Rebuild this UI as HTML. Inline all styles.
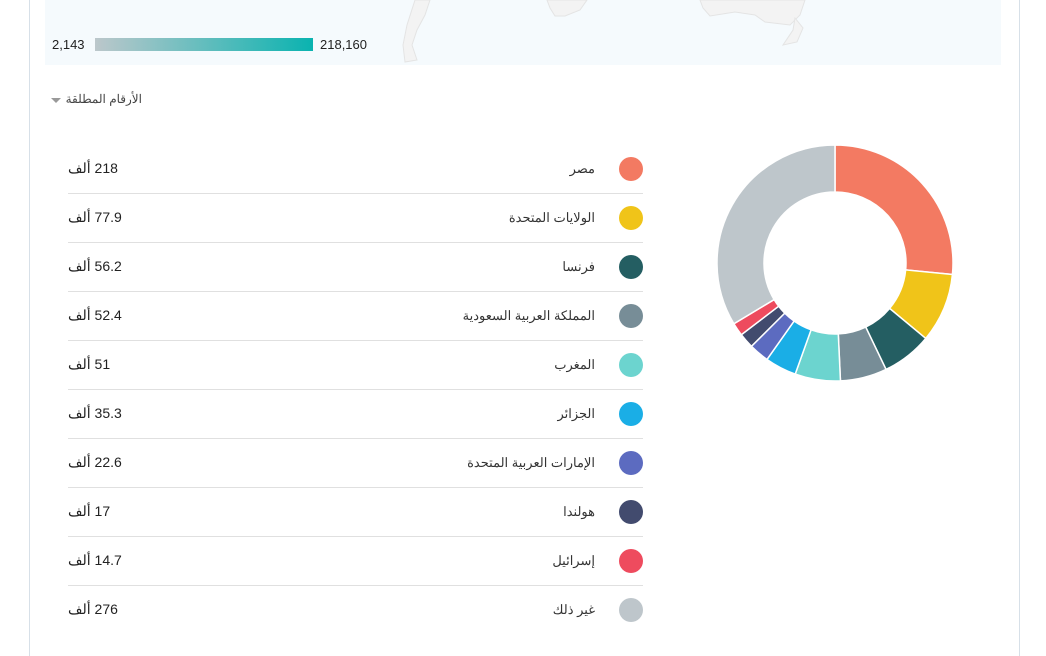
<!DOCTYPE html>
<html lang="ar"><head><meta charset="utf-8">
<style>
body{margin:0;width:1046px;height:656px;background:#fff;font-family:"Liberation Sans","Noto Sans CJK SC",sans-serif;position:relative;overflow:hidden}
.abs{position:absolute}
.row{position:absolute;left:68px;width:575px;height:49px;}
.row .sep{position:absolute;left:0;right:0;bottom:0;height:1px;background:#e0e0e0}
.val{position:absolute;left:0;top:15px;font-size:14px;color:#222;direction:rtl;unicode-bidi:embed}
.name{position:absolute;right:48px;top:16px;font-size:13px;color:#333;direction:rtl}
.dot{position:absolute;right:0;top:12px;width:24px;height:24px;border-radius:50%}
</style></head><body>
<div class="abs" style="left:29px;top:0;width:1px;height:656px;background:#d7e0e8"></div>
<div class="abs" style="left:1019px;top:0;width:1px;height:656px;background:#d7e0e8"></div>
<div class="abs" style="left:45px;top:0;width:956px;height:65px;background:#f5fafd">
<svg width="956" height="65" style="position:absolute;left:0;top:0">
<path d="M370 0 L385 0 L380 15 L372 30 L367 45 L372 60 L360 62 L358 45 L362 25 Z" fill="#f3f3f3" stroke="#e4e4e4" stroke-width="1"/>
<path d="M502 0 L542 0 L535 10 L520 16 L510 16 L505 8 Z" fill="#f3f3f3" stroke="#e4e4e4" stroke-width="1"/>
<path d="M655 0 L760 0 L755 15 L745 25 L720 22 L710 15 L690 12 L665 16 L658 8 Z" fill="#f3f3f3" stroke="#e4e4e4" stroke-width="1"/>
<path d="M750 18 L758 28 L752 42 L738 45 L748 30 Z" fill="#f3f3f3" stroke="#e4e4e4" stroke-width="1"/>
</svg>
<span class="abs" style="left:7px;top:37px;font-size:13px;color:#222">2,143</span>
<div class="abs" style="left:50px;top:38px;width:218px;height:13px;background:linear-gradient(to right,#bcc7cb,#0ab3b0)"></div>
<span class="abs" style="left:275px;top:37px;font-size:13px;color:#222">218,160</span>
</div>
<div class="abs" style="left:50px;top:92px;font-size:12px;color:#444;direction:rtl;width:92px;text-align:right">الأرقام المطلقة</div>
<div class="abs" style="left:51px;top:98px;width:0;height:0;border-left:5px solid transparent;border-right:5px solid transparent;border-top:5px solid #999"></div>
<div id="legend"></div>
<svg id="donut" class="abs" style="left:700px;top:130px" width="270" height="270"></svg>
<script>
const names=["مصر","الولايات المتحدة","فرنسا","المملكة العربية السعودية","المغرب","الجزائر","الإمارات العربية المتحدة","هولندا","إسرائيل","غير ذلك"];
const values=[218,77.9,56.2,52.4,51,35.3,22.6,17,14.7,276];
const labels=["218","77.9","56.2","52.4","51","35.3","22.6","17","14.7","276"];
const colors=["#f37a62","#f0c419","#245e62","#778d97","#6cd4cf","#1aaee6","#5c6bc0","#424b6e","#ee4b5e","#bec6cb"];
const leg=document.getElementById('legend');
names.forEach((n,i)=>{
  const r=document.createElement('div');r.className='row';r.style.top=(145+i*49)+'px';
  
  
  r.innerHTML='<span class="val">'+labels[i]+' ألف</span><span class="name">'+n+'</span><span class="dot" style="background:'+colors[i]+'"></span>'+(i<names.length-1?'<div class="sep"></div>':'');
  leg.appendChild(r);
});
const svg=document.getElementById('donut');const cx=135,cy=133,R=118,r0=71;
const tot=values.reduce((a,b)=>a+b,0);let a=0;
values.forEach((v,i)=>{
  const a1=a+v/tot*2*Math.PI;
  const p=(ang,rad)=>[cx+rad*Math.sin(ang),cy-rad*Math.cos(ang)];
  const [x1,y1]=p(a,R),[x2,y2]=p(a1,R),[x3,y3]=p(a1,r0),[x4,y4]=p(a,r0);
  const lg=(a1-a)>Math.PI?1:0;
  const path=document.createElementNS('http://www.w3.org/2000/svg','path');
  path.setAttribute('d',`M${x1} ${y1}A${R} ${R} 0 ${lg} 1 ${x2} ${y2}L${x3} ${y3}A${r0} ${r0} 0 ${lg} 0 ${x4} ${y4}Z`);
  path.setAttribute('fill',colors[i]);path.setAttribute('stroke','#fff');path.setAttribute('stroke-width','1.5');
  
  
  svg.appendChild(path);a=a1;
});
</script>
</body></html>
